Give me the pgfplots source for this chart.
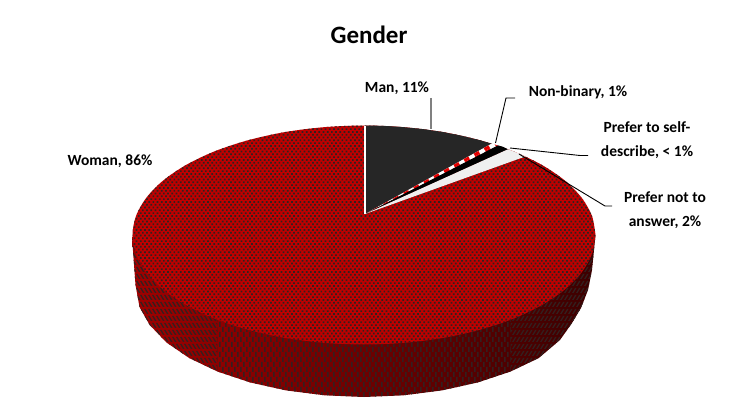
\documentclass[border=0pt]{standalone}
\usepackage{fontspec}
\setmainfont{Carlito}
\usepackage{pgfplots}
\pgfplotsset{compat=1.18}
\usetikzlibrary{patterns,patterns.meta}
\definecolor{topred}{HTML}{C00000}
\definecolor{dotc}{HTML}{33201F}
\definecolor{manc}{HTML}{262626}
\definecolor{grayc}{HTML}{EFEFEF}
\definecolor{sideL}{HTML}{A00000}
\definecolor{sideM}{HTML}{6E0000}
\definecolor{sideR}{HTML}{3C0000}
\pgfdeclarepatternformonly{gdots}{\pgfqpoint{-1pt}{-1pt}}{\pgfqpoint{4.2pt}{5.8pt}}{\pgfqpoint{4.2pt}{5.6pt}}{%
  \pgfpathrectangle{\pgfqpoint{-0.8pt}{-0.8pt}}{\pgfqpoint{1.7pt}{1.7pt}}%
  \pgfpathrectangle{\pgfqpoint{1.3pt}{2.0pt}}{\pgfqpoint{1.7pt}{1.7pt}}%
  \pgfusepath{fill}}
\pgfdeclarepatternformonly{sdashv}{\pgfqpoint{-1pt}{-1pt}}{\pgfqpoint{6pt}{11pt}}{\pgfqpoint{6pt}{10pt}}{%
  \pgfpathrectangle{\pgfqpoint{0pt}{0pt}}{\pgfqpoint{1.5pt}{5pt}}%
  \pgfpathrectangle{\pgfqpoint{3pt}{5pt}}{\pgfqpoint{1.5pt}{5pt}}%
  \pgfusepath{fill}}
\pgfdeclarepatternformonly{sdashr}{\pgfqpoint{-1pt}{-1pt}}{\pgfqpoint{8pt}{8pt}}{\pgfqpoint{4pt}{7pt}}{%
  \pgfpathmoveto{\pgfqpoint{0pt}{0pt}}\pgfpathlineto{\pgfqpoint{3pt}{5pt}}\pgfpathlineto{\pgfqpoint{4.5pt}{5pt}}\pgfpathlineto{\pgfqpoint{1.5pt}{0pt}}\pgfpathclose
  \pgfusepath{fill}}
\pgfdeclarepatternformonly{sdashl}{\pgfqpoint{-1pt}{-1pt}}{\pgfqpoint{8pt}{8pt}}{\pgfqpoint{4pt}{7pt}}{%
  \pgfpathmoveto{\pgfqpoint{3pt}{0pt}}\pgfpathlineto{\pgfqpoint{0pt}{5pt}}\pgfpathlineto{\pgfqpoint{1.5pt}{5pt}}\pgfpathlineto{\pgfqpoint{4.5pt}{0pt}}\pgfpathclose
  \pgfusepath{fill}}
\tikzset{lab/.style={font=\fontsize{15.5}{24}\selectfont\bfseries,align=center,inner sep=0pt}}
\begin{document}
\begin{tikzpicture}[x=1pt,y=1pt]
\useasboundingbox (0,0) rectangle (737pt,412pt);
\begin{axis}[at={(0,0)},anchor=south west,scale only axis,width=737pt,height=412pt,
  xmin=0,xmax=737,ymin=0,ymax=412,y dir=reverse,hide axis,clip=false,no marks]
% side band
\addplot[draw=none,left color=sideL,middle color=sideM,right color=sideR] coordinates {
 (595.5,235)(594,250)(592,270)(588,290)(581,308)(572,323)(560,340)(538.7,358.1)(510.6,371.5)(478,382.4)(442,390.4)(403.6,395.3)(364,397)(324.4,395.3)(286,390.4)(250,382.4)(217.4,371.5)(189.3,358.1)(166.5,342.5)(149.7,325)(139.5,307)(135.5,285)(132,237)};
% side streaks: left, middle, right
\addplot[draw=none,pattern=sdashl,pattern color=dotc] coordinates {
 (217.4,371.5)(189.3,358.1)(166.5,342.5)(149.7,325)(139.5,307)(135.5,285)(132,237)(217.4,300)};
\addplot[draw=none,pattern=sdashv,pattern color=dotc] coordinates {
 (510.6,371.5)(478,382.4)(442,390.4)(403.6,395.3)(364,397)(324.4,395.3)(286,390.4)(250,382.4)(217.4,371.5)(217.4,300)(510.6,300)};
\addplot[draw=none,pattern=sdashr,pattern color=dotc] coordinates {
 (595.5,235)(594,250)(592,270)(588,290)(581,308)(572,323)(560,340)(538.7,358.1)(510.6,371.5)(510.6,300)};
% top face
\addplot[draw=none,fill=topred,smooth] coordinates {
 (595.5,235)(592,254)(581.5,272.5)(564.5,289.75)(541.3,305.4)(512.8,318.9)(479.75,329.8)(443.2,337.9)(404.2,342.8)(364,344.5)(323.8,342.8)(284.8,337.9)(248.25,329.8)(215.2,318.9)(186.7,305.4)(163.5,289.75)(146.5,272.5)(136,254)(132.5,235)(136,216)(146.5,197.5)(163.5,180.25)(186.7,164.6)(215.2,151.1)(248.25,140.2)(284.8,132.1)(323.8,127.2)(364,125.5)(404.2,127.2)(443.2,132.1)(479.75,140.2)(512.8,151.1)(541.3,164.6)(564.5,180.25)(581.5,197.5)(592,216)(595.5,235)};
\addplot[draw=none,pattern=gdots,pattern color=dotc,smooth] coordinates {
 (595.5,235)(592,254)(581.5,272.5)(564.5,289.75)(541.3,305.4)(512.8,318.9)(479.75,329.8)(443.2,337.9)(404.2,342.8)(364,344.5)(323.8,342.8)(284.8,337.9)(248.25,329.8)(215.2,318.9)(186.7,305.4)(163.5,289.75)(146.5,272.5)(136,254)(132.5,235)(136,216)(146.5,197.5)(163.5,180.25)(186.7,164.6)(215.2,151.1)(248.25,140.2)(284.8,132.1)(323.8,127.2)(364,125.5)(404.2,127.2)(443.2,132.1)(479.75,140.2)(512.8,151.1)(541.3,164.6)(564.5,180.25)(581.5,197.5)(592,216)(595.5,235)};
% slices
\addplot[draw=none,fill=manc] coordinates {(365,214)(365,125.5)(384.2,125.9)(404.2,127.2)(423.9,129.2)(443.2,132.1)(461.8,135.8)(479.75,140.2)(492,143.8)};
\addplot[draw=none,fill=white] coordinates {(365,214)(492,143.4)(498,145.8)};
\addplot[draw=none,pattern={Lines[angle=119,distance=11.5pt,line width=5.5pt,xshift=2pt]},pattern color=red!90!black] coordinates {(365,214)(492,143.4)(498,145.8)};
\addplot[draw=none,fill=black] coordinates {(365,214)(498,145.4)(503,146.8)(508,149.3)};
\addplot[draw=none,fill=grayc] coordinates {(365,214)(508,149.3)(512.8,151.1)(519,153.6)(525,156.6)};
\addplot[white,line width=1.3pt] coordinates {(365,214)(365,125.5)};
% leader lines
\addplot[color=black!50,line width=1.4pt] coordinates {(431,98)(431,129)};
\addplot[black,line width=0.9pt] coordinates {(495.5,143)(506,98)(515,98)};
\addplot[black,line width=0.9pt] coordinates {(510,148)(580,155.5)(588,155.5)};
\addplot[black,line width=0.9pt] coordinates {(519,154)(605,206)(612,206)};
% text
\node[lab,font=\fontsize{25}{30}\selectfont\bfseries] at (axis cs:369,35) {Gender};
\node[lab] at (axis cs:397,88) {Man, 11\%};
\node[lab] at (axis cs:578,92) {Non-binary, 1\%};
\node[lab] at (axis cs:647,140) {Prefer to self-\\describe, < 1\%};
\node[lab] at (axis cs:665,210) {Prefer not to\\answer, 2\%};
\node[lab] at (axis cs:110,161) {Woman, 86\%};
\end{axis}
\end{tikzpicture}
\end{document}
